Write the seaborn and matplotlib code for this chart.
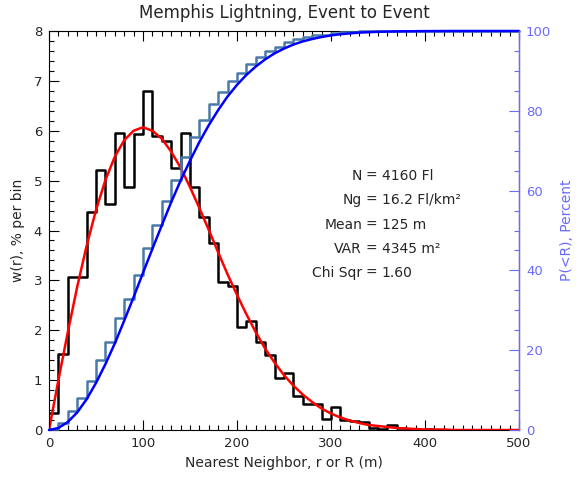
import numpy as np
import matplotlib
matplotlib.use("Agg")
import matplotlib.pyplot as plt
import seaborn as sns
from matplotlib.ticker import MultipleLocator

# histogram bins, 10 m wide
bin_edges = list(range(0, 510, 10))
# w(r), % per bin (black steps)
w_hist = [0.34, 1.53, 3.07, 3.07, 4.38, 5.22, 4.53, 5.96, 4.87, 5.94,
          6.80, 5.89, 5.79, 5.25, 5.96, 4.87, 4.28, 3.74, 2.97, 2.89,
          2.06, 2.18, 1.77, 1.50, 1.05, 1.15, 0.68, 0.53, 0.53, 0.23,
          0.46, 0.21, 0.18, 0.16, 0.05, 0.03, 0.10, 0.05, 0.02, 0.01,
          0.02, 0.0, 0.0, 0.0, 0.0, 0.0, 0.0, 0.0, 0.0, 0.0]
# P(<R), percent (steel blue steps)
p_hist = [0.3, 1.8, 4.8, 7.9, 12.3, 17.5, 22.0, 28.0, 32.9, 38.8,
          45.6, 51.5, 57.3, 62.6, 68.5, 73.5, 77.8, 81.6, 84.6, 87.4,
          89.5, 91.7, 93.5, 95.0, 96.1, 97.2, 97.9, 98.4, 98.9, 99.1,
          99.5, 99.7, 99.8, 99.9, 100, 100, 100, 100, 100, 100,
          100, 100, 100, 100, 100, 100, 100, 100, 100, 100]

# smooth fit curves, every 10 m
r_fit = list(range(0, 510, 10))
w_fit = [0.0, 1.00, 1.96, 2.87, 3.69, 4.41, 5.01, 5.48, 5.81, 6.00,
         6.07, 6.00, 5.84, 5.58, 5.26, 4.87, 4.45, 4.01, 3.56, 3.12,
         2.71, 2.32, 1.96, 1.63, 1.35, 1.10, 0.89, 0.71, 0.56, 0.43,
         0.33, 0.25, 0.19, 0.14, 0.10, 0.08, 0.06, 0.04, 0.03, 0.02,
         0.01, 0.01, 0.01, 0.0, 0.0, 0.0, 0.0, 0.0, 0.0, 0.0, 0.0]
p_fit = [0.0, 0.5, 2.0, 4.4, 7.7, 11.8, 16.5, 21.7, 27.4, 33.3,
         39.4, 45.4, 51.3, 57.1, 62.5, 67.5, 72.2, 76.4, 80.2, 83.6,
         86.5, 89.0, 91.1, 92.9, 94.4, 95.6, 96.6, 97.4, 98.0, 98.5,
         98.9, 99.2, 99.4, 99.6, 99.7, 99.8, 99.85, 99.9, 99.93, 99.95,
         99.97, 99.98, 99.99, 100, 100, 100, 100, 100, 100, 100, 100]

stats_left = ["N", "Ng", "Mean", "VAR", "Chi Sqr"]
stats_right = ["4160 Fl", "16.2 Fl/km\u00b2", "125 m", "4345 m\u00b2", "1.60"]

sns.set_style("ticks")
plt.rcParams['font.family'] = ['DejaVu Sans']
txt = '#262626'
rcol = '#6a6aff'

fig = plt.figure(figsize=(5.79, 4.79), dpi=100)
ax = fig.add_axes([49/579, 1-430/479, 470/579, 399/479])
ax2 = ax.twinx()

centers = [e + 5 for e in bin_edges[:-1]]
sns.histplot(x=centers, weights=w_hist, bins=bin_edges, element='step', fill=False,
             color='black', linewidth=1.8, ax=ax)
sns.lineplot(x=r_fit, y=w_fit, color='red', linewidth=1.8, ax=ax)

sns.histplot(x=centers, weights=p_hist, bins=bin_edges, element='step', fill=False,
             color='#4a7aaa', linewidth=1.8, ax=ax2)
sns.lineplot(x=r_fit, y=p_fit, color='#0000ff', linewidth=1.8, ax=ax2)
for ln in ax2.lines:
    ln.set_clip_on(False)

ax.set_xlim(0, 500)
ax.set_ylim(0, 8)
ax2.set_ylim(0, 100)

ax.xaxis.set_major_locator(MultipleLocator(100))
ax.xaxis.set_minor_locator(MultipleLocator(10))
ax.yaxis.set_major_locator(MultipleLocator(1))
ax.yaxis.set_minor_locator(MultipleLocator(0.2))
ax2.yaxis.set_major_locator(MultipleLocator(20))
ax2.yaxis.set_minor_locator(MultipleLocator(5))

ax.tick_params(which='both', direction='in', top=True, right=False, colors='black',
               labelcolor=txt, labelsize=9.5, width=0.8)
ax.tick_params(which='major', length=7, pad=5)
ax.tick_params(which='minor', length=3.5)
ax2.tick_params(which='both', direction='in', colors=rcol, labelcolor=rcol,
                labelsize=9.5, width=0.8)
ax2.tick_params(which='major', length=7, pad=5)
ax2.tick_params(which='minor', length=3.5)

for s in ['left', 'bottom', 'top']:
    ax.spines[s].set_color('black')
    ax.spines[s].set_linewidth(0.8)
ax2.spines['right'].set_color(rcol)
ax2.spines['right'].set_linewidth(1.0)
ax2.spines['left'].set_visible(False)
ax2.spines['top'].set_visible(False)
ax2.spines['bottom'].set_visible(False)

ax.set_xlabel("Nearest Neighbor, r or R (m)", fontsize=10, color=txt, labelpad=4)
ax.set_ylabel("w(r), % per bin", fontsize=10, color=txt, labelpad=6)
ax2.set_ylabel("P(<R), Percent", fontsize=10, color=rcol, labelpad=6)
ax.set_title("Memphis Lightning, Event to Event", fontsize=12, color=txt, pad=9)

ys = [5.10, 4.62, 4.12, 3.63, 3.15]
for lab, val, yv in zip(stats_left, stats_right, ys):
    ax.text(333, yv, lab, ha='right', va='center', fontsize=10, color=txt)
    ax.text(343, yv, "=", ha='center', va='center', fontsize=10, color=txt)
    ax.text(354, yv, val, ha='left', va='center', fontsize=10, color=txt)

fig.savefig("out.png", dpi=100)
